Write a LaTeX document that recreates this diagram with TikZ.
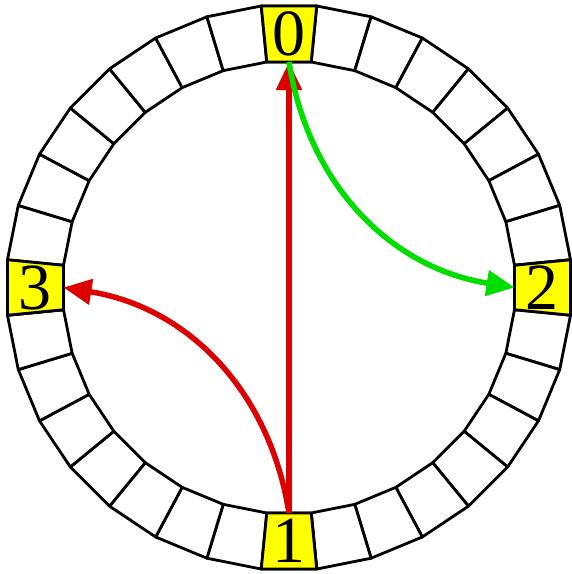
\documentclass[tikz,border=0pt]{standalone}
\usepackage{fontspec}
\setmainfont{Liberation Serif}
\usetikzlibrary{arrows.meta}
\definecolor{ownerfill}{HTML}{FFFF00}
\definecolor{hopred}{HTML}{DD0000}
\definecolor{hopgreen}{HTML}{00DD00}
\tikzset{
  slot/.style={draw=black, fill=white, line width=2.8pt, line join=round},
  owner/.style={slot, fill=ownerfill},
  slotnum/.style={inner sep=0pt, font=\fontsize{66}{66}\selectfont},
  hop/.style={-{Triangle[length=28pt, width=25pt]}, line width=5.5pt},
}
\begin{document}
\begin{tikzpicture}[x=1pt, y=1pt]
\useasboundingbox (-289,-286.5) rectangle (283,287.5);
% ring of 32 slots
\foreach \i in {0,...,31} {
  \pgfmathsetmacro{\a}{90-11.25*\i}
  \draw[slot] (\a-5.625:282.9) -- (\a+5.625:282.9) -- (\a+5.625:226.6) -- (\a-5.625:226.6) -- cycle;
}
% the four owned slots
\foreach \k/\pos in {0/0, 2/8, 1/16, 3/24} {
  \pgfmathsetmacro{\a}{90-11.25*\pos}
  \draw[owner] (\a-5.625:282.9) -- (\a+5.625:282.9) -- (\a+5.625:226.6) -- (\a-5.625:226.6) -- cycle;
  \node[slotnum] (n\k) at (\a:253.5) {\k};
  \coordinate (in\k) at (\a:225.5);
}
\draw[hop, hopred] (in1) -- (in0);
\draw[hop, hopred] (in1) to[bend right=36] (in3);
\draw[hop, hopgreen] (in0) to[bend right=36] (in2);
\end{tikzpicture}
\end{document}
